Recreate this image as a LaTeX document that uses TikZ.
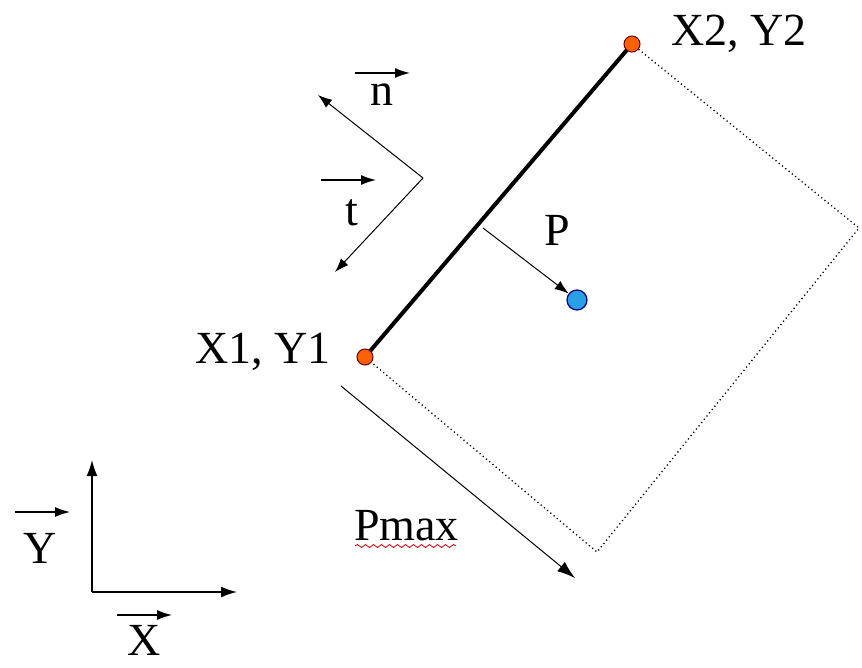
\documentclass[tikz,border=0pt]{standalone}
\usepackage{fontspec}
\setmainfont{Liberation Serif}
\usetikzlibrary{arrows.meta,decorations.pathmorphing}
\begin{document}
\begin{tikzpicture}[x=1pt,y=-1pt,
  vec/.style={-{Latex[length=15pt,width=10pt]}, line width=1.4pt},
  thinarrow/.style={-{Latex[length=14pt,width=10pt]}, line width=1pt},
  axis/.style={-{Latex[length=16pt,width=11pt]}, line width=1.6pt},
  lbl/.style={inner sep=0pt, font=\fontsize{46}{50}\selectfont, anchor=base},
  enddot/.style={circle, inner sep=0pt, minimum size=16pt, draw=black!60!red, line width=1pt, fill=orange!75!red},
  pdot/.style={circle, inner sep=0pt, minimum size=20pt, draw=blue!50!black, line width=1.2pt, fill={rgb,255:red,40;green,160;blue,230}},
  dotline/.style={line width=1.3pt, dash pattern=on 1.2pt off 3pt}
]
\useasboundingbox (0,0) rectangle (862,667);
% geometry
\coordinate (a) at (365,357);
\coordinate (b) at (632,44);
\coordinate (c) at (859,228);
\coordinate (d) at (597,552);
\coordinate (f) at (483,228);
\coordinate (k) at (423,178);
\coordinate (ntip) at (318,95);
\coordinate (ttip) at (335,272);
\coordinate (pm0) at (341,386);
\coordinate (pm1) at (575,578);
\coordinate (o) at (92,592);
\coordinate (yt) at (92,460);
\coordinate (xt) at (237,592);
% dotted rectangle
\draw[dotline] (b) -- (c) -- (d) -- (a);
% segment
\draw[line width=4pt] (a) -- (b);
% dots
\node[enddot] (A) at (a) {};
\node[enddot] (B) at (b) {};
\node[pdot] (P) at (577,300) {};
% normal to P
\draw[thinarrow] (f) -- (P);
% n and t
\draw[thinarrow] (k) -- (ntip);
\draw[thinarrow] (k) -- (ttip);
% Pmax arrow
\draw[thinarrow, -{Latex[length=18pt,width=12pt]}] (pm0) -- (pm1);
% axes
\draw[axis] (o) -- (yt);
\draw[axis] (o) -- (xt);
% labels
\node[lbl, anchor=base west] (l1) at (195,363) {X1, Y1};
\node[lbl, anchor=base west] (l2) at (671,45) {X2, Y2};
\node[lbl] (lp) at (557,245) {P};
\node[lbl] (ln) at (382,105) {n};
\node[lbl] (lt) at (352,225) {t};
\node[lbl] (ly) at (40,563) {Y};
\node[lbl] (lx) at (144,655) {X};
\node[lbl, anchor=base west] (lpm) at (354,540) {Pmax};
% vector arrows over letters
\coordinate (n0) at (355,73); \coordinate (n1) at (410,73);
\coordinate (t0) at (321,180); \coordinate (t1) at (376,180);
\coordinate (y0) at (15,512); \coordinate (y1) at (70,512);
\coordinate (x0) at (117,615); \coordinate (x1) at (172,615);
\draw[vec] (n0) -- (n1);
\draw[vec] (t0) -- (t1);
\draw[vec] (y0) -- (y1);
\draw[vec] (x0) -- (x1);
% spell-check squiggle
\coordinate (w0) at (355,546); \coordinate (w1) at (456,546);
\draw[red!80!black, line width=0.8pt, decorate, decoration={snake, amplitude=1.5pt, segment length=8pt}] (w0) -- (w1);
\end{tikzpicture}
\end{document}
